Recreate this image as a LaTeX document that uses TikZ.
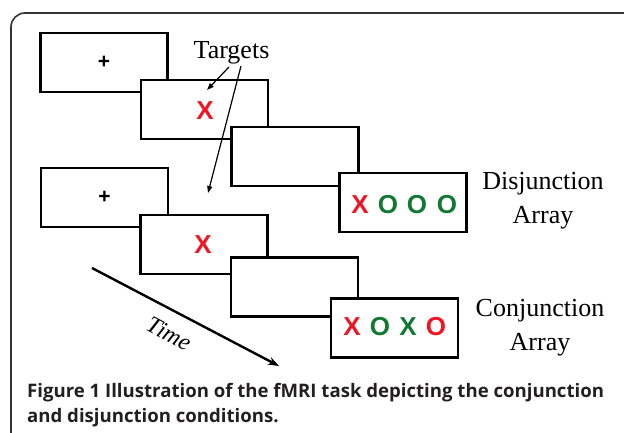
\documentclass[tikz,border=0pt]{standalone}
\usepackage{fontspec}
\setmainfont{Liberation Serif}
\newfontfamily\capfont{Open Sans}
\newfontfamily\markfont{Liberation Sans}
\usetikzlibrary{arrows.meta}
\definecolor{xred}{RGB}{238,22,36}
\definecolor{ogreen}{RGB}{18,120,50}
\definecolor{captext}{RGB}{35,31,32}
\begin{document}
\begin{tikzpicture}[x=1pt,y=-1pt,
  panel/.style={draw=black, line width=2.6pt, fill=white, minimum width=127pt, minimum height=59pt, inner sep=0pt},
  letter/.style={font=\markfont\bfseries\fontsize{26}{26}\selectfont, inner sep=0pt},
  plussign/.style={font=\markfont\bfseries\fontsize{21}{21}\selectfont, inner sep=0pt},
  serifl/.style={font=\fontsize{26}{34}\selectfont, align=center, inner sep=0pt},
  pointer/.style={-{Triangle[length=7pt,width=5pt]}, line width=1.2pt},
  caption/.style={anchor=base west, inner sep=0pt, text=captext, font=\capfont\bfseries\fontsize{18.6}{18.6}\selectfont}]
\useasboundingbox (0,0) rectangle (624,433);
% outer frame
\draw[black!80, line width=1.6pt, rounded corners=14pt] (11,440) -- (11,13) -- (640,13);

% disjunction sequence
\node[panel] (a1) at (104,62.5) {};
\node[plussign] (a1p) at (a1.center) {+};
\node[panel] (a2) at (204.5,109.5) {};
\node[letter, text=xred] (a2x) at (205,111) {X};
\node[panel] (a3) at (295,156.5) {};
\node[panel] (a4) at (403,202.5) {};
\node[letter, text=xred]   (d1) at (360,205) {X};
\node[letter, text=ogreen] (d2) at (388,205) {O};
\node[letter, text=ogreen] (d3) at (417,205) {O};
\node[letter, text=ogreen] (d4) at (447,205) {O};
\node[serifl] (dlab) at (543,201) {Disjunction\\Array};

% conjunction sequence
\node[panel] (b1) at (104.5,197.5) {};
\node[plussign] (b1p) at (b1.center) {+};
\node[panel] (b2) at (204,244.5) {};
\node[letter, text=xred] (b2x) at (203,245) {X};
\node[panel] (b3) at (294.5,287) {};
\node[panel] (b4) at (394.5,328) {};
\node[letter, text=xred]   (c1) at (352,327) {X};
\node[letter, text=ogreen] (c2) at (380,327) {O};
\node[letter, text=ogreen] (c3) at (408,327) {X};
\node[letter, text=xred]   (c4) at (436,327) {O};
\node[serifl] (clab) at (540,328) {Conjunction\\Array};

% target pointers
\node[serifl] (tg) at (231.5,53) {Targets};
\coordinate (ts1) at (229,67);
\coordinate (te1) at (207,90);
\coordinate (ts2) at (241,66);
\coordinate (te2) at (208,193);
\draw[pointer] (ts1) -- (te1);
\draw[pointer] (ts2) -- (te2);

% time axis
\coordinate (t0) at (92,268);
\coordinate (t1) at (279,366);
\draw[line width=2.4pt, -{Stealth[length=11pt,width=8pt]}] (t0) -- (t1);
\node[font=\itshape\fontsize{24}{24}\selectfont, rotate=-28, inner sep=0pt] (time) at (169,334) {Time};

% caption
\node[caption] (cap1) at (27,397) {Figure 1 Illustration of the fMRI task depicting the conjunction};
\node[caption] (cap2) at (27,422.5) {and disjunction conditions.};
\end{tikzpicture}
\end{document}
